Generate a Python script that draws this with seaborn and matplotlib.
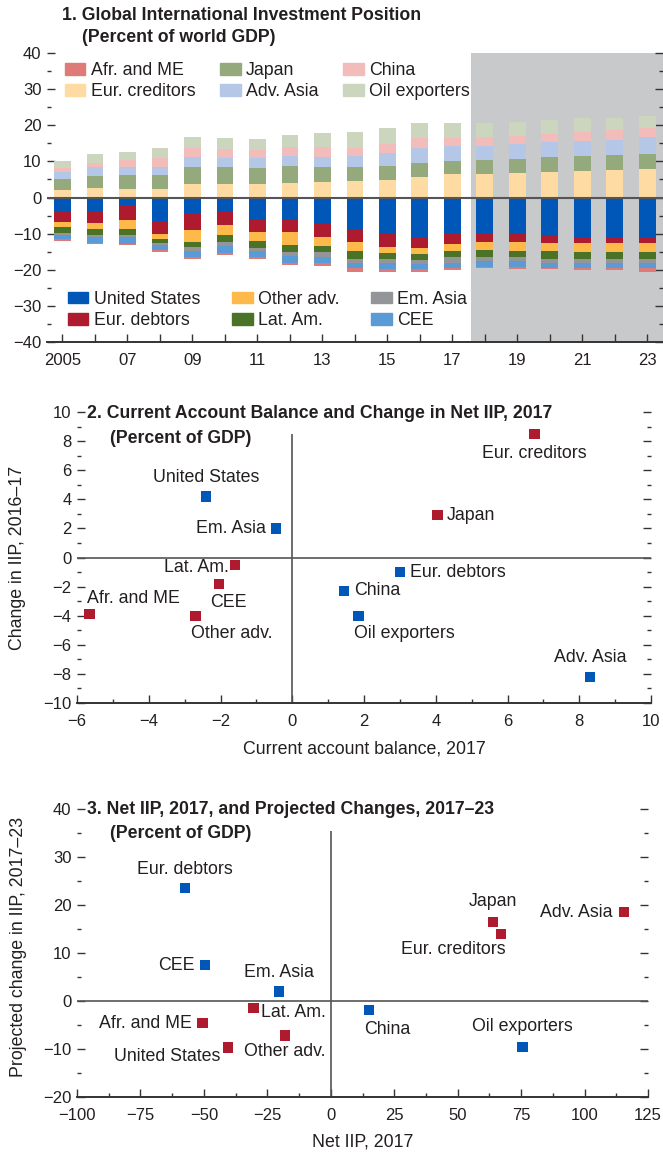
import matplotlib.pyplot as plt
import matplotlib.ticker as mticker
from matplotlib.patches import Patch
import pandas as pd
import seaborn as sns

# ---------------- Panel 1 data (percent of world GDP) ----------------
years = [str(y) for y in range(2005, 2024)]
year_labels = ["2005", "", "07", "", "09", "", "11", "", "13", "", "15", "",
               "17", "", "19", "", "21", "", "23"]

eur_creditors = [2.0, 2.6, 2.3, 2.3, 3.7, 3.7, 3.7, 4.0, 4.3, 4.5, 4.8, 5.6, 6.5, 6.5, 6.8, 7.0, 7.3, 7.6, 7.9]
japan = [3.1, 3.3, 3.9, 3.9, 4.7, 4.7, 4.4, 4.7, 4.1, 3.9, 3.9, 3.9, 3.6, 3.9, 3.8, 4.2, 4.2, 4.2, 4.1]
adv_asia = [1.9, 2.6, 2.3, 2.2, 2.8, 2.5, 2.8, 2.8, 2.8, 3.1, 3.6, 4.2, 4.2, 3.9, 4.2, 4.2, 4.1, 4.1, 4.8]
china = [1.1, 1.0, 1.9, 2.4, 2.5, 2.5, 2.2, 2.6, 2.8, 2.2, 2.4, 2.8, 2.2, 2.5, 2.2, 2.2, 2.5, 2.8, 2.5]
oil_exporters = [2.0, 2.5, 2.2, 2.9, 3.1, 3.1, 3.1, 3.2, 3.9, 4.4, 4.6, 4.1, 4.1, 3.8, 3.9, 3.9, 3.9, 3.3, 3.3]

united_states = [-4.1, -3.7, -2.4, -6.5, -4.6, -4.1, -6.3, -6.3, -7.0, -9.1, -10.2, -11.3, -9.9, -9.9, -10.2, -10.5, -10.8, -10.8, -11.0]
eur_debtors = [-2.8, -3.4, -3.9, -3.7, -4.5, -3.6, -3.3, -3.3, -4.0, -3.3, -3.6, -2.8, -3.1, -2.5, -2.2, -2.2, -1.9, -1.9, -1.7]
other_adv = [-1.3, -1.7, -2.5, -1.4, -3.3, -2.8, -2.5, -3.6, -2.5, -2.5, -1.7, -1.6, -1.9, -2.2, -2.5, -2.2, -2.5, -2.5, -2.5]
lat_am = [-1.6, -1.6, -1.6, -1.0, -1.4, -1.9, -2.0, -2.0, -1.7, -2.0, -1.4, -1.7, -1.7, -2.0, -1.7, -2.0, -1.7, -1.7, -1.9]
em_asia = [-0.6, -0.5, -0.5, -0.5, -1.0, -1.1, -0.7, -1.1, -1.4, -1.1, -1.3, -1.1, -1.4, -1.1, -1.1, -1.1, -1.3, -1.3, -1.1]
cee = [-1.2, -1.6, -2.1, -1.5, -1.8, -2.0, -1.8, -1.9, -1.6, -1.6, -1.7, -1.4, -1.4, -1.5, -1.5, -1.4, -1.2, -1.2, -1.4]
afr_me = [-0.5, -0.4, -0.2, -0.5, -0.5, -0.5, -0.5, -0.6, -0.9, -0.9, -0.6, -0.8, -0.8, -0.4, -0.7, -0.5, -0.8, -0.8, -0.9]

# ---------------- Panel 2 data ----------------
p2_names = ["Eur. creditors", "United States", "Em. Asia", "Japan", "Lat. Am.", "CEE",
            "Afr. and ME", "Other adv.", "Eur. debtors", "China", "Oil exporters", "Adv. Asia"]
p2_ca = [6.75, -2.4, -0.45, 4.05, -1.6, -2.05, -5.65, -2.7, 3.0, 1.45, 1.85, 8.3]
p2_iip = [8.5, 4.2, 2.0, 2.9, -0.5, -1.8, -3.9, -4.0, -1.0, -2.3, -4.0, -8.2]
p2_group = ["red", "blue", "blue", "red", "red", "red", "red", "red", "blue", "blue", "blue", "blue"]

# ---------------- Panel 3 data ----------------
p3_names = ["Eur. debtors", "Japan", "Eur. creditors", "Adv. Asia", "CEE", "Em. Asia",
            "Lat. Am.", "China", "Afr. and ME", "Other adv.", "United States", "Oil exporters"]
p3_netiip = [-57.5, 64.0, 67.0, 115.5, -49.5, -20.5, -30.5, 15.0, -50.5, -18.0, -40.5, 75.5]
p3_change = [23.6, 16.5, 14.0, 18.5, 7.5, 2.0, -1.5, -1.9, -4.6, -7.2, -9.7, -9.6]
p3_group = ["blue", "red", "red", "red", "blue", "blue", "red", "blue", "red", "red", "red", "blue"]

# label offsets in pixels (dx, dy, ha)
p2_offsets = {
    "Eur. creditors": (0, -20, "center"), "United States": (0, 19, "center"),
    "Em. Asia": (-10, 0, "right"), "Japan": (9, 0, "left"), "Lat. Am.": (-6, -3, "right"),
    "CEE": (10, -19, "center"), "Afr. and ME": (-3, 16, "left"), "Other adv.": (-4, -18, "left"),
    "Eur. debtors": (10, 0, "left"), "China": (10, 0, "left"), "Oil exporters": (-5, -18, "left"),
    "Adv. Asia": (0, 19, "center"),
}
p3_offsets = {
    "Eur. debtors": (0, 18, "center"), "Japan": (0, 20, "center"), "Eur. creditors": (5, -16, "right"),
    "Adv. Asia": (-11, 0, "right"), "CEE": (-11, 0, "right"), "Em. Asia": (0, 19, "center"),
    "Lat. Am.": (8, -4, "left"), "China": (-5, -19, "left"), "Afr. and ME": (-11, 0, "right"),
    "Other adv.": (0, -16, "center"), "United States": (-8, -9, "right"), "Oil exporters": (0, 21, "center"),
}

BLUE = "#0057b8"
RED = "#ae1a2e"
TXT = "#231f20"
FS = 12
LFS = 12.8
TFS = 12.7

sns.set_style("white")
plt.rcParams["font.family"] = ["Liberation Sans", "DejaVu Sans"]
plt.rcParams["text.color"] = TXT
plt.rcParams["axes.labelcolor"] = TXT
plt.rcParams["xtick.color"] = "#333333"
plt.rcParams["ytick.color"] = "#333333"
plt.rcParams["xtick.labelcolor"] = TXT
plt.rcParams["ytick.labelcolor"] = TXT

W, H = 663, 1155
fig = plt.figure(figsize=(W / 100, H / 100), dpi=100)


def box(l, t, r, b):
    return [l / W, 1 - b / H, (r - l) / W, (b - t) / H]


def style_ticks(ax):
    ax.tick_params(axis="both", which="both", direction="in", labelsize=FS, width=1)
    ax.tick_params(axis="y", which="major", length=6, left=True, right=True, pad=4)
    ax.tick_params(axis="y", which="minor", length=3, left=True, right=True)
    ax.tick_params(axis="x", which="major", length=6, bottom=True, top=False, pad=8)
    ax.tick_params(axis="x", which="minor", length=3, bottom=True, top=False)
    for s in ["top", "left", "right"]:
        ax.spines[s].set_visible(False)
    ax.spines["bottom"].set_color("#333333")
    ax.spines["bottom"].set_linewidth(1.4)


# ---------------- Panel 1 ----------------
ax1 = fig.add_axes(box(47, 53, 663, 342))
pos_series = [("Eur. creditors", eur_creditors, "#fddba3"), ("Japan", japan, "#94aa7c"),
              ("Adv. Asia", adv_asia, "#b4c7e7"), ("China", china, "#f2bcbb"),
              ("Oil exporters", oil_exporters, "#ccd6bf")]
neg_series = [("United States", united_states, BLUE), ("Eur. debtors", eur_debtors, RED),
              ("Other adv.", other_adv, "#fdb94a"), ("Lat. Am.", lat_am, "#4b7328"),
              ("Em. Asia", em_asia, "#939598"), ("CEE", cee, "#5b9bd5"),
              ("Afr. and ME", afr_me, "#de7b78")]
colors = {n: c for n, _, c in pos_series + neg_series}

ax1.axvspan(12.57, 18.6, color="#c8c9cb", zorder=0, lw=0)
for group in (pos_series, neg_series):
    cums = []
    run = [0.0] * len(years)
    for name, vals, col in group:
        run = [a + b for a, b in zip(run, vals)]
        cums.append((name, run, col))
    # tallest cumulative bar first so the shorter ones sit on top of it
    for name, run, col in reversed(cums):
        sns.barplot(x=years, y=run, color=col, width=0.52, saturation=1,
                    linewidth=0, errorbar=None, ax=ax1, zorder=2)

ax1.axhline(0, color="#555555", lw=1.5, zorder=3)
ax1.set_xlim(-0.477, 18.48)
ax1.set_ylim(-40, 40)
ax1.set_xticks(range(len(years)))
ax1.set_xticklabels(year_labels)
ax1.yaxis.set_major_locator(mticker.MultipleLocator(10))
ax1.yaxis.set_minor_locator(mticker.MultipleLocator(5))
ax1.set_xlabel("")
ax1.set_ylabel("")
style_ticks(ax1)

upper = ["Afr. and ME", "Eur. creditors", "Japan", "Adv. Asia", "China", "Oil exporters"]
lower = ["United States", "Eur. debtors", "Other adv.", "Lat. Am.", "Em. Asia", "CEE"]
leg1 = ax1.legend([Patch(color=colors[n]) for n in upper], upper, ncol=3, loc="upper left",
                  bbox_to_anchor=((65 - 47) / 616, (342 - 62) / 289), frameon=False,
                  fontsize=LFS, borderpad=0, borderaxespad=0, handlelength=1.15,
                  handleheight=0.62, handletextpad=0.3, columnspacing=1.4, labelspacing=0.25)
ax1.add_artist(leg1)
ax1.legend([Patch(color=colors[n]) for n in lower], lower, ncol=3, loc="lower left",
           bbox_to_anchor=((68 - 47) / 616, (342 - 329) / 289), frameon=False,
           fontsize=LFS, borderpad=0, borderaxespad=0, handlelength=1.15,
           handleheight=0.62, handletextpad=0.3, columnspacing=1.8, labelspacing=0.25)

fig.text(62 / W, 1 - 15 / H, "1. Global International Investment Position",
         fontsize=TFS, fontweight="bold", va="center", ha="left")
fig.text(82 / W, 1 - 37 / H, "(Percent of world GDP)",
         fontsize=TFS, fontweight="bold", va="center", ha="left")


# ---------------- Scatter panels ----------------
def scatter_panel(ax, names, xs, ys, groups, offsets, vtop):
    df = pd.DataFrame({"name": names, "x": xs, "y": ys, "group": groups})
    ax.axhline(0, color="#555555", lw=1.2, zorder=1)
    ax.vlines(0, ax.get_ylim()[0], vtop, color="#555555", lw=1.2, zorder=1)
    sns.scatterplot(data=df, x="x", y="y", hue="group", palette={"blue": BLUE, "red": RED},
                    marker="s", s=55, linewidth=0, legend=False, ax=ax, zorder=3)
    for _, row in df.iterrows():
        dx, dy, ha = offsets[row["name"]]
        ax.annotate(row["name"], (row["x"], row["y"]), xytext=(dx, dy),
                    textcoords="offset pixels", ha=ha, va="center", fontsize=LFS)
    style_ticks(ax)


ax2 = fig.add_axes(box(77, 412, 651, 703))
ax2.set_xlim(-6, 10)
ax2.set_ylim(-10, 10)
scatter_panel(ax2, p2_names, p2_ca, p2_iip, p2_group, p2_offsets, 8.5)
ax2.set_xlim(-6, 10)
ax2.set_ylim(-10, 10)
ax2.xaxis.set_major_locator(mticker.MultipleLocator(2))
ax2.xaxis.set_minor_locator(mticker.MultipleLocator(1))
ax2.yaxis.set_major_locator(mticker.MultipleLocator(2))
ax2.yaxis.set_minor_locator(mticker.MultipleLocator(1))
ax2.set_xlabel("Current account balance, 2017", fontsize=LFS)
ax2.set_ylabel("Change in IIP, 2016\u201317", fontsize=LFS)
ax2.xaxis.set_label_coords(0.5, -0.128)
ax2.yaxis.set_label_coords(-0.088, 0.5)
fig.text(87 / W, 1 - 413 / H, "2. Current Account Balance and Change in Net IIP, 2017",
         fontsize=TFS, fontweight="bold", va="center", ha="left")
fig.text(110 / W, 1 - 439 / H, "(Percent of GDP)",
         fontsize=TFS, fontweight="bold", va="center", ha="left")

ax3 = fig.add_axes(box(77, 809, 648, 1097))
ax3.set_xlim(-100, 125)
ax3.set_ylim(-20, 40)
scatter_panel(ax3, p3_names, p3_netiip, p3_change, p3_group, p3_offsets, 35.5)
ax3.set_xlim(-100, 125)
ax3.set_ylim(-20, 40)
ax3.xaxis.set_major_locator(mticker.MultipleLocator(25))
ax3.xaxis.set_minor_locator(mticker.MultipleLocator(12.5))
ax3.yaxis.set_major_locator(mticker.MultipleLocator(10))
ax3.yaxis.set_minor_locator(mticker.MultipleLocator(5))
ax3.set_xlabel("Net IIP, 2017", fontsize=LFS)
ax3.set_ylabel("Projected change in IIP, 2017\u201323", fontsize=LFS)
ax3.xaxis.set_label_coords(0.5, -0.128)
ax3.yaxis.set_label_coords(-0.088, 0.52)
fig.text(87 / W, 1 - 810 / H, "3. Net IIP, 2017, and Projected Changes, 2017\u201323",
         fontsize=TFS, fontweight="bold", va="center", ha="left")
fig.text(110 / W, 1 - 833 / H, "(Percent of GDP)",
         fontsize=TFS, fontweight="bold", va="center", ha="left")

fig.savefig("out.png", dpi=100)
